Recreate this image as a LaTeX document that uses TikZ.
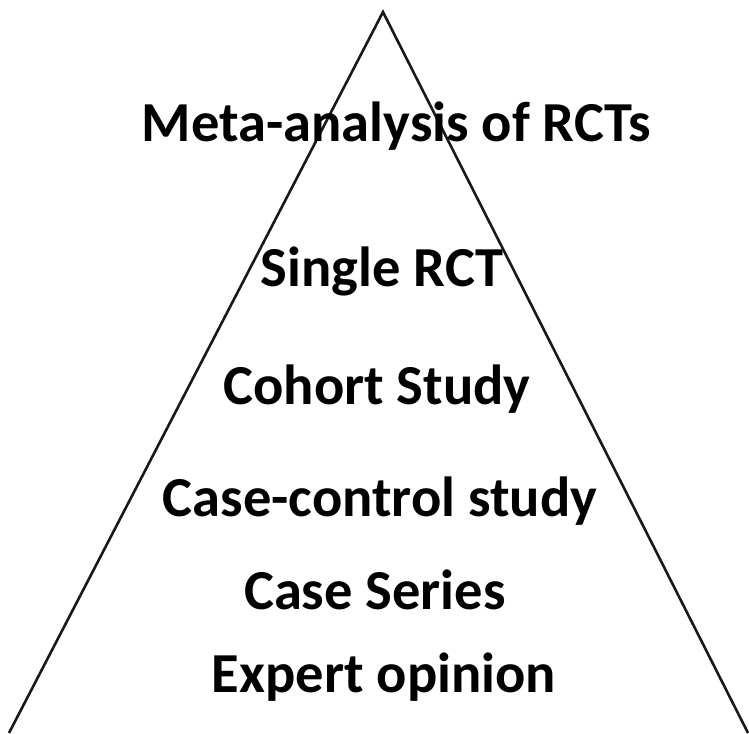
\documentclass[tikz,border=0pt]{standalone}
\usepackage{fontspec}
\setmainfont{Carlito}
\tikzset{level/.style={font=\bfseries\fontsize{56.5}{60}\selectfont, inner sep=0pt, anchor=base}}
\begin{document}
\begin{tikzpicture}[x=1pt,y=-1pt]
            \useasboundingbox (0,0) rectangle (749,733);
            \coordinate (top) at (383,12);
            \coordinate (left) at (9,733);
            \coordinate (right) at (748,733);
            \draw[line width=2.6pt, line join=miter, color=black!90] (left) -- (top) -- (right);
            \node[level] (meta) at (396.5,141) {Meta-analysis of RCTs};
            \node[level] (rct) at (382,286) {Single RCT};
            \node[level] (cohort) at (377,404) {Cohort Study};
            \node[level] (casecontrol) at (380,516) {Case-control study};
            \node[level] (series) at (375,609) {Case Series};
            \node[level] (expert) at (384,692) {Expert opinion};
        \end{tikzpicture}
\end{document}
